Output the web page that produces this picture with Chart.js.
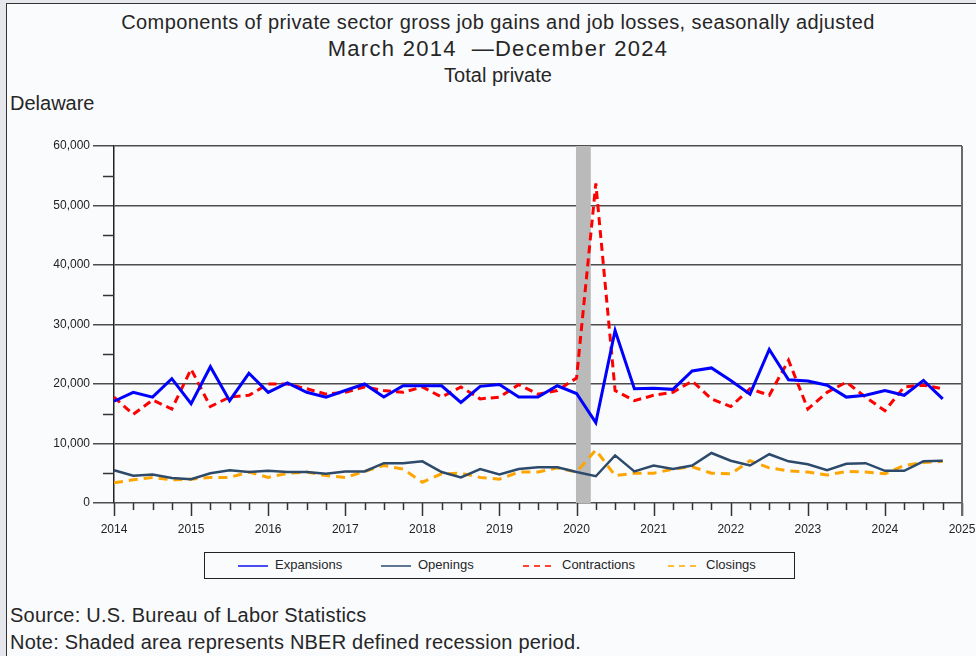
<!DOCTYPE html>
<html>
<head>
<meta charset="utf-8">
<title>Delaware job gains and losses</title>
<script src="https://cdn.jsdelivr.net/npm/chart.js@4.4.1/dist/chart.umd.min.js"></script>
<style>
  html, body { margin: 0; padding: 0; }
  body {
    width: 976px; height: 656px; position: relative; overflow: hidden;
    background: #e6e7ec;
    font-family: "Liberation Sans", Arial, sans-serif; color: #262626;
  }
  #frame {
    position: absolute; left: 6px; top: 3px; right: 0; bottom: 0;
    background: #fafbfd; border-left: 1.5px solid #333; border-top: 1.5px solid #333;
  }
  .title { position: absolute; left: 0; width: 996px; text-align: center; white-space: nowrap; }
  .note { position: absolute; left: 10px; font-size: 20px; line-height: 20px; white-space: nowrap; letter-spacing: 0.22px; }
  #chartBox { position: absolute; left: 0; top: 0; width: 976px; height: 545px; }
  #legend {
    position: absolute; left: 204px; top: 552px; width: 589px; height: 25px;
    border: 1.5px solid #222; background: #fafbfd;
  }
  .swatch { position: absolute; top: 12px; height: 2px; width: 30px; }
  .ltext { position: absolute; top: 4px; font-size: 13px; line-height: 16px; white-space: nowrap; }
</style>
</head>
<body>
<div id="frame"></div>
<div class="title" style="top:12px;font-size:20px;line-height:20px;letter-spacing:0.4px">Components of private sector gross job gains and job losses, seasonally adjusted</div>
<div class="title" style="top:38px;font-size:22px;line-height:22px;letter-spacing:1.3px">March 2014 &nbsp;—December 2024</div>
<div class="title" style="top:65px;font-size:20px;line-height:20px">Total private</div>
<div class="note" style="top:93px;letter-spacing:0">Delaware</div>

<div id="chartBox"><canvas id="chart" width="976" height="545"></canvas></div>

<div id="legend">
  <div class="swatch" style="left:33px;background:#4b4bf2"></div>
  <div class="ltext" style="left:70px">Expansions</div>
  <div class="swatch" style="left:176px;background:#5d7795"></div>
  <div class="ltext" style="left:213px">Openings</div>
  <div class="swatch" style="left:318px;width:28px;background:repeating-linear-gradient(90deg,#f43 0 6px,transparent 6px 11px)"></div>
  <div class="ltext" style="left:357px">Contractions</div>
  <div class="swatch" style="left:463px;width:28px;background:repeating-linear-gradient(90deg,#fb3 0 6px,transparent 6px 11px)"></div>
  <div class="ltext" style="left:501px">Closings</div>
</div>

<div class="note" style="top:605px">Source: U.S. Bureau of Labor Statistics</div>
<div class="note" style="top:632px">Note: Shaded area represents NBER defined recession period.</div>

<script>
// quarterly, March 2014 - December 2024 (44 quarters)
const yearLabels = ["2014", "2015", "2016", "2017", "2018", "2019", "2020", "2021", "2022", "2023", "2024", "2025"];

const expansions = [17100, 18600, 17800, 20900, 16700, 22900, 17200, 21800, 18600, 20200,
  18600, 17800, 18900, 20000, 17800, 19700, 19700, 19700, 16900, 19600,
  19900, 17800, 17800, 19700, 18400, 13500, 29000, 19200, 19300, 19100,
  22200, 22700, 20600, 18300, 25800, 20700, 20500, 19800, 17800, 18100,
  18900, 18100, 20600, 17500];

const openings = [5500, 4600, 4800, 4200, 4000, 5000, 5500, 5200, 5400, 5200,
  5200, 4900, 5300, 5300, 6700, 6700, 7000, 5200, 4300, 5700,
  4800, 5700, 6000, 6000, 5200, 4500, 8000, 5300, 6300, 5700,
  6300, 8400, 7100, 6300, 8200, 7000, 6500, 5500, 6600, 6700,
  5400, 5400, 7000, 7100];

const contractions = [17800, 14900, 17300, 15800, 22500, 16200, 17800, 18100, 20000, 20000,
  19200, 18300, 18600, 19500, 18900, 18600, 19500, 17800, 19500, 17500,
  17800, 19900, 18300, 18900, 21000, 53700, 18900, 17200, 18100, 18600,
  20500, 17500, 16200, 19200, 18100, 24000, 15800, 18600, 20300, 17800,
  15500, 19500, 19800, 19200];

const closings = [3400, 3900, 4300, 3900, 4000, 4300, 4300, 5200, 4300, 5000,
  5200, 4600, 4300, 5300, 6300, 5700, 3500, 4900, 5000, 4300,
  4000, 5200, 5200, 5900, 5200, 8900, 4600, 5000, 5000, 5700,
  6100, 5000, 4900, 7100, 5900, 5400, 5200, 4700, 5300, 5200,
  4900, 6300, 6800, 7000];

// NBER recession, in quarter-index units (Q1 2020 = 24)
const recessionStart = 23.97;
const recessionEnd = 24.74;

// one category per quarter, plus Q1 2025 so the axis ends on the 2025 tick
const quarterLabels = [];
yearLabels.forEach(y => ["Q1", "Q2", "Q3", "Q4"].forEach(q => quarterLabels.push(q + " " + y)));
quarterLabels.length = expansions.length + 1;

const recessionShade = {
  id: "recessionShade",
  beforeDatasetsDraw(chart) {
    const { ctx, chartArea, scales: { x } } = chart;
    const x0 = x.getPixelForValue(recessionStart);
    const x1 = x.getPixelForValue(recessionEnd);
    ctx.save();
    ctx.fillStyle = "#bababa";
    ctx.fillRect(x0, chartArea.top, x1 - x0, chartArea.bottom - chartArea.top);
    ctx.restore();
  }
};

// quarter / year tick marks, minor y ticks and the right frame line
const axisMarks = {
  id: "axisMarks",
  afterDraw(chart) {
    const { ctx, chartArea, scales: { x, y } } = chart;
    ctx.save();
    ctx.strokeStyle = "#333";
    ctx.lineWidth = 1.5;
    ctx.beginPath();
    for (let i = 0; i < quarterLabels.length; i++) {
      const px = Math.round(x.getPixelForValue(i)) + 0.5;
      ctx.moveTo(px, chartArea.bottom);
      ctx.lineTo(px, chartArea.bottom + (i % 4 === 0 ? 13 : 7));
    }
    y.ticks.forEach(t => {
      if (t.value % 10000 !== 0) {
        const py = Math.round(y.getPixelForValue(t.value)) + 0.5;
        ctx.moveTo(chartArea.left - 11, py);
        ctx.lineTo(chartArea.left, py);
      }
    });
    ctx.stroke();
    ctx.strokeStyle = "#6a6a6a";
    ctx.lineWidth = 2;
    ctx.beginPath();
    ctx.moveTo(chartArea.right, chartArea.top);
    ctx.lineTo(chartArea.right, chartArea.bottom + 13);
    ctx.stroke();
    ctx.restore();
  }
};

const ctx = document.getElementById("chart").getContext("2d");
new Chart(ctx, {
  type: "line",
  data: {
    labels: quarterLabels,
    datasets: [
      { label: "Expansions", data: expansions, borderColor: "#0000ff", borderWidth: 3 },
      { label: "Openings", data: openings, borderColor: "#2d4a6b", borderWidth: 2.5 },
      { label: "Contractions", data: contractions, borderColor: "#ff0000", borderWidth: 3, borderDash: [8, 5] },
      { label: "Closings", data: closings, borderColor: "#ffa500", borderWidth: 3, borderDash: [9, 6] }
    ]
  },
  options: {
    responsive: false,
    animation: false,
    layout: { padding: { top: 146, right: 14, left: 0, bottom: 0 } },
    elements: { point: { radius: 0 }, line: { tension: 0, fill: false } },
    plugins: { legend: { display: false }, tooltip: { enabled: false } },
    scales: {
      x: {
        type: "category",
        offset: false,
        grid: { display: false },
        border: { display: false },
        ticks: {
          autoSkip: false,
          maxRotation: 0,
          padding: 11,
          color: "#222",
          font: { family: "Liberation Sans", size: 12 },
          callback: (v, i) => (i % 4 === 0 ? yearLabels[i / 4] : "")
        },
        afterFit: s => { s.height = 42; s.paddingLeft = 0; s.paddingRight = 0; }
      },
      y: {
        min: 0,
        max: 60000,
        ticks: {
          stepSize: 5000,
          padding: 3,
          color: "#222",
          font: { family: "Liberation Sans", size: 12 },
          callback: v => (v % 10000 === 0 ? v.toLocaleString("en-US") : "")
        },
        grid: {
          color: c => (c.tick && c.tick.value % 10000 === 0 ? "#4d4d4d" : "rgba(0,0,0,0)"),
          lineWidth: 1.5,
          tickLength: 21
        },
        border: { display: true, color: "#222", width: 1.5 },
        afterFit: s => { s.width = 114; s.paddingTop = 0; s.paddingBottom = 0; }
      }
    }
  },
  plugins: [recessionShade, axisMarks]
});
</script>
</body>
</html>
